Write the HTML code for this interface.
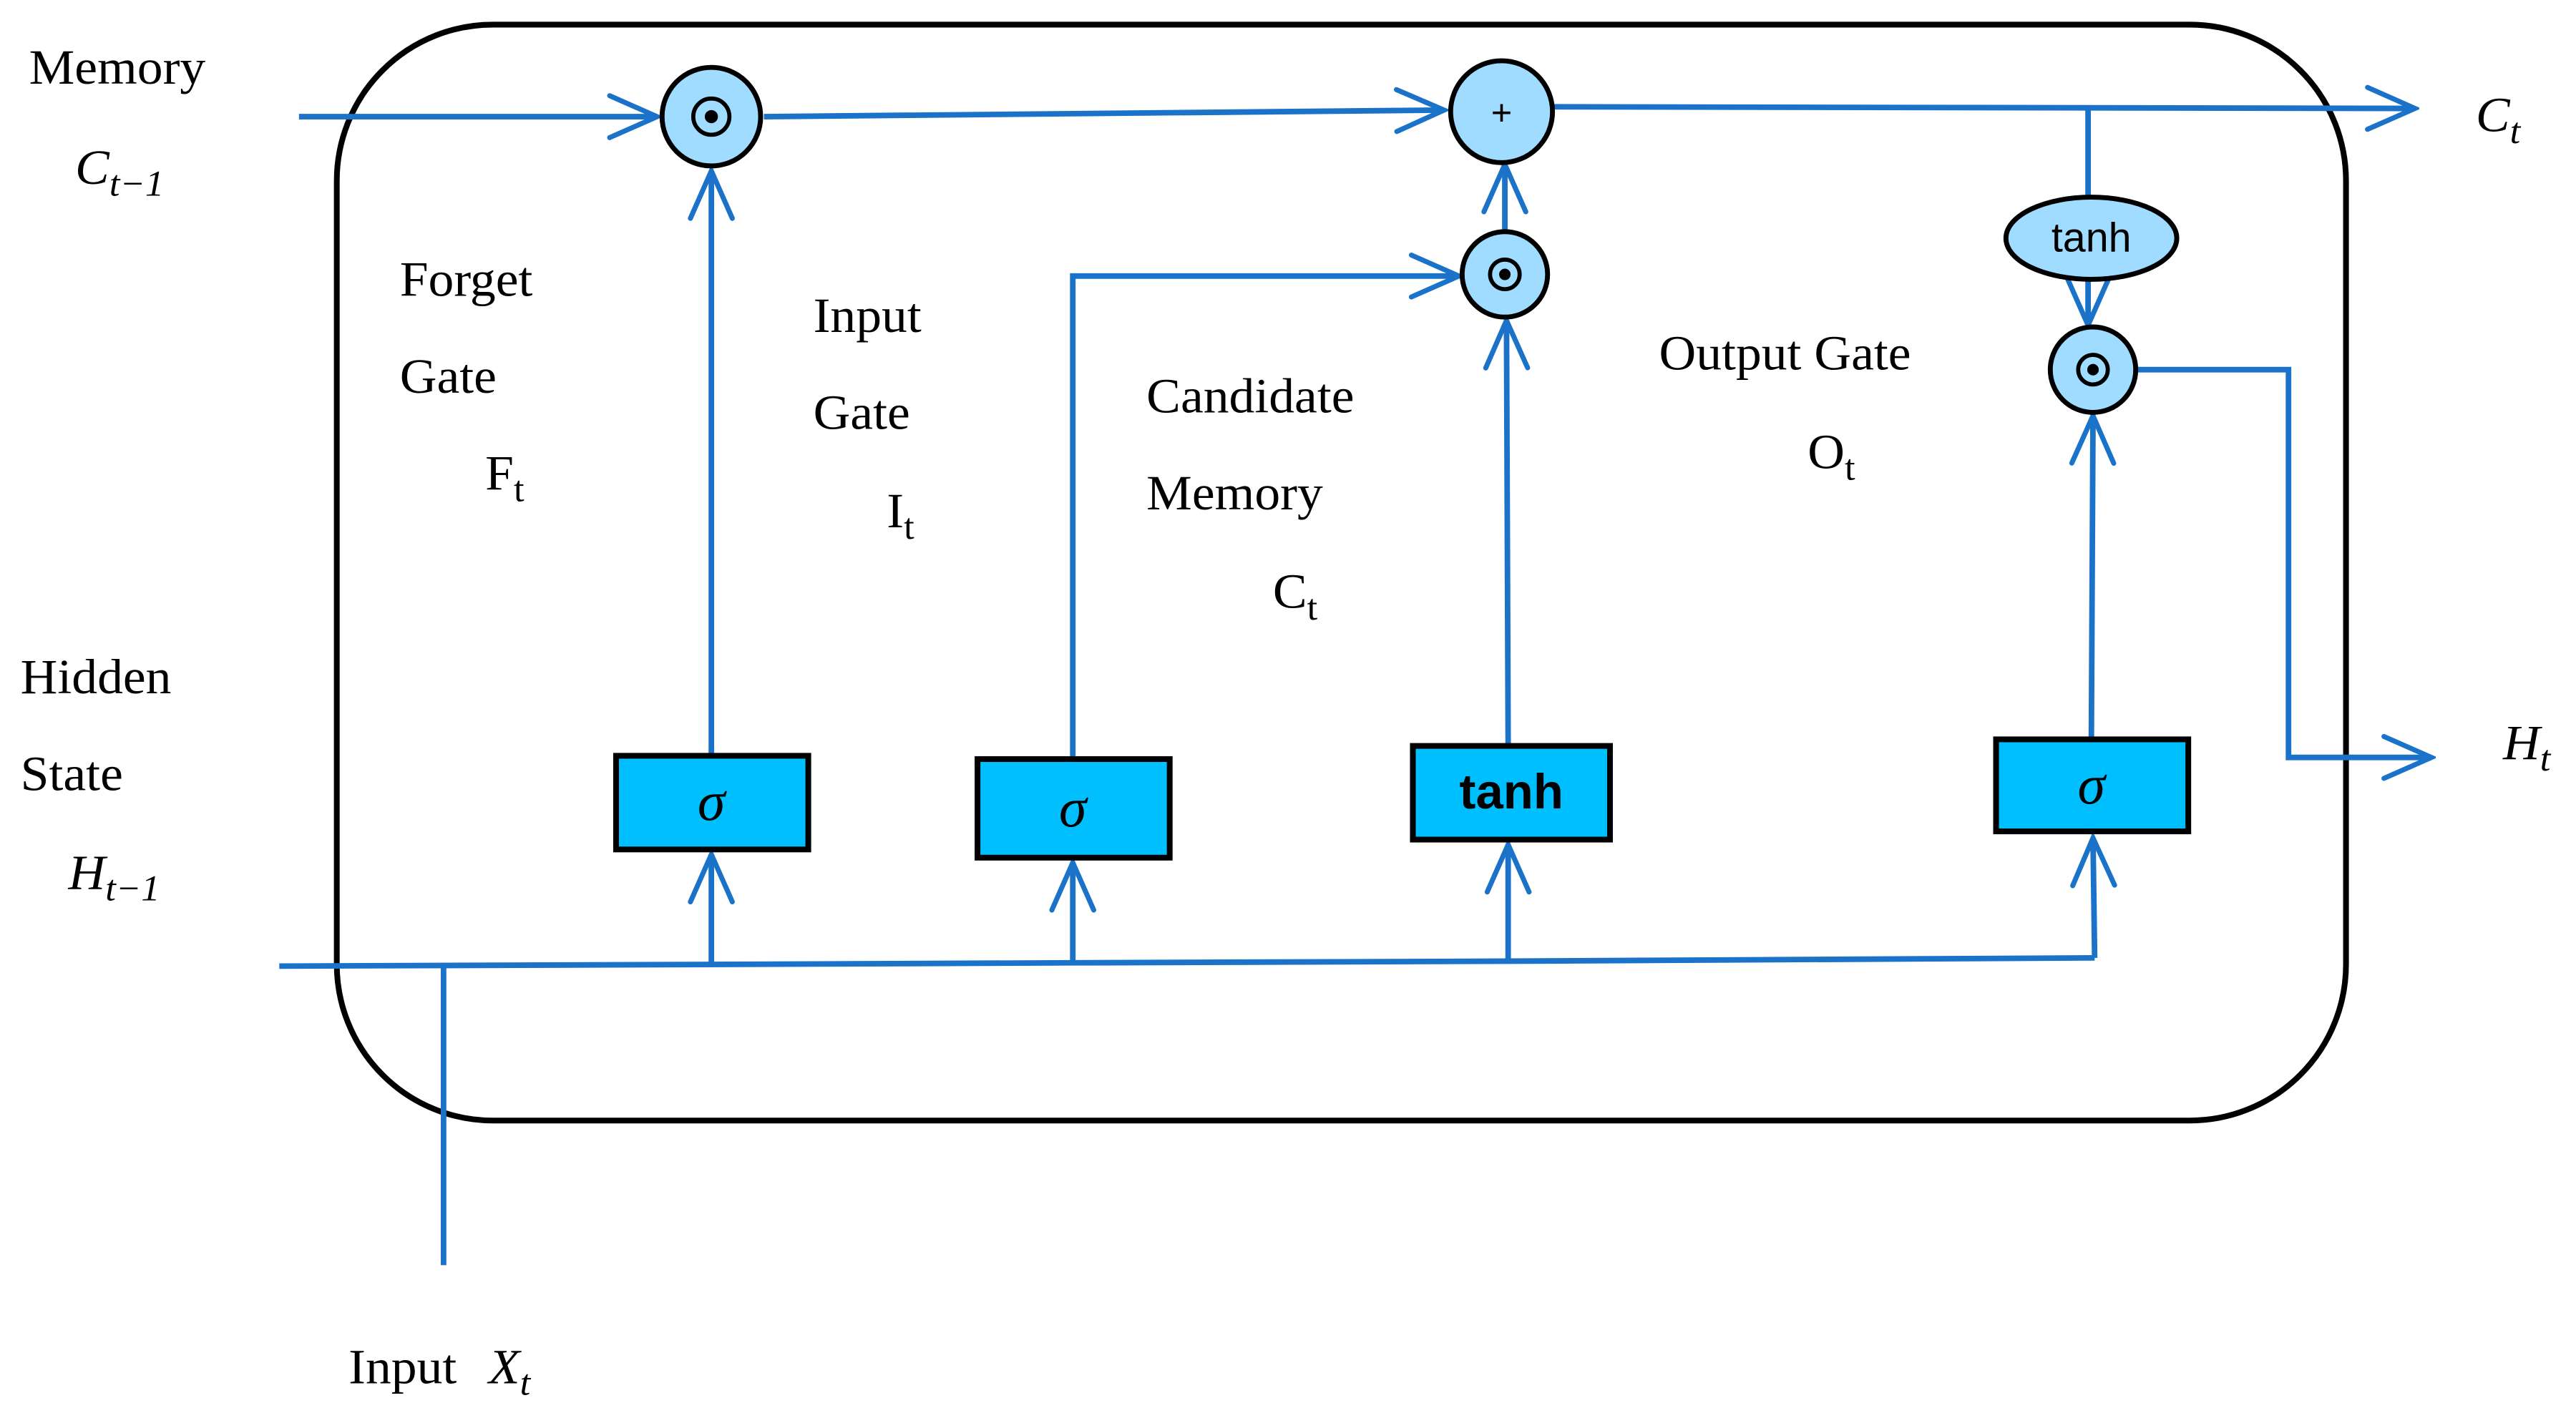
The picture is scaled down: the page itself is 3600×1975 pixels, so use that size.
<!DOCTYPE html>
<html><head><meta charset="utf-8"><style>
html,body{margin:0;padding:0;background:#fff;width:3600px;height:1975px;overflow:hidden}
svg{display:block}
text{font-family:"Liberation Serif",serif;fill:#000}
</style></head><body>
<svg width="3600" height="1975" viewBox="0 0 1568 860" preserveAspectRatio="none" xmlns="http://www.w3.org/2000/svg">
<defs>
<marker id="a" viewBox="0 0 40 40" refX="37" refY="20" markerWidth="34" markerHeight="34" markerUnits="userSpaceOnUse" orient="auto">
<path d="M3,5 L37,20 L3,35" fill="none" stroke="#1a73c8" stroke-width="3.6" stroke-linecap="round" stroke-linejoin="miter"/>
</marker>
</defs>
<rect x="205" y="15" width="1223" height="667" rx="95" ry="95" fill="none" stroke="#000" stroke-width="3.5"/>
<g fill="none" stroke="#1a73c8" stroke-width="3.4">
<line x1="182" y1="71" x2="400" y2="71" marker-end="url(#a)"/>
<line x1="465" y1="71" x2="879" y2="67" marker-end="url(#a)"/>
<line x1="946" y1="65" x2="1470" y2="66" marker-end="url(#a)"/>
<line x1="1271" y1="65" x2="1271" y2="121"/>
<line x1="1271" y1="170" x2="1271" y2="198" marker-end="url(#a)"/>
<polyline points="1300,225 1393,225 1393,461 1480,461" marker-end="url(#a)"/>
<line x1="916" y1="141" x2="916" y2="100" marker-end="url(#a)"/>
<polyline points="653,462 653,168 888,168" marker-end="url(#a)"/>
<line x1="433" y1="460" x2="433" y2="104" marker-end="url(#a)"/>
<line x1="918" y1="454" x2="917" y2="195" marker-end="url(#a)"/>
<line x1="1273" y1="450" x2="1274" y2="253" marker-end="url(#a)"/>
<polyline points="170,588 433,587 653,586 918,585 1275,583"/>
<line x1="433" y1="587" x2="433" y2="520" marker-end="url(#a)"/>
<line x1="653" y1="586" x2="653" y2="525" marker-end="url(#a)"/>
<line x1="918" y1="585" x2="918" y2="514" marker-end="url(#a)"/>
<line x1="1275" y1="583" x2="1274" y2="510" marker-end="url(#a)"/>
<line x1="270" y1="588" x2="270" y2="770"/>
</g>
<g stroke="#000" stroke-width="3" fill="#a0dcff">
<circle cx="433" cy="71" r="30"/>
<circle cx="914" cy="68" r="31"/>
<circle cx="916" cy="167" r="26"/>
<circle cx="1274" cy="225" r="26"/>
<ellipse cx="1273" cy="145" rx="52" ry="25"/>
</g>
<g fill="none" stroke="#000" stroke-width="2.5">
<circle cx="433" cy="71" r="11"/>
<circle cx="916" cy="167" r="9"/>
<circle cx="1274" cy="225" r="9"/>
</g>
<circle cx="433" cy="71" r="4" fill="#000"/>
<circle cx="916" cy="167" r="3.5" fill="#000"/>
<circle cx="1274" cy="225" r="3.5" fill="#000"/>
<text x="914" y="76" font-size="22" text-anchor="middle" style="font-family:'Liberation Sans',sans-serif">+</text>
<text x="1273" y="153" font-size="25" text-anchor="middle" style="font-family:'Liberation Sans',sans-serif">tanh</text>
<g fill="#00bfff" stroke="#000" stroke-width="3.5">
<rect x="375" y="460" width="117" height="57"/>
<rect x="595" y="462" width="117" height="60"/>
<rect x="860" y="454" width="120" height="57"/>
<rect x="1215" y="450" width="117" height="56"/>
</g>
<g font-size="34" font-style="italic" text-anchor="middle">
<text x="433" y="499">σ</text>
<text x="653" y="503">σ</text>
<text x="1273" y="489">σ</text>
</g>
<text x="920" y="492" font-size="30" font-weight="bold" text-anchor="middle" style="font-family:'Liberation Sans',sans-serif">tanh</text>
<g font-size="30" transform="scale(1.04,1)">
<text x="17" y="51">Memory</text>
<text x="44" y="112" font-style="italic">C<tspan font-size="22" dy="7">t−1</tspan></text>
<text x="1449" y="80" font-style="italic">C<tspan font-size="22" dy="7">t</tspan></text>
<text x="234" y="180">Forget</text>
<text x="234" y="239">Gate</text>
<text x="284" y="298">F<tspan font-size="22" dy="7">t</tspan></text>
<text x="476" y="202">Input</text>
<text x="476" y="261">Gate</text>
<text x="519" y="321">I<tspan font-size="22" dy="7">t</tspan></text>
<text x="671" y="251">Candidate</text>
<text x="671" y="310">Memory</text>
<text x="745" y="370">C<tspan font-size="22" dy="7">t</tspan></text>
<text x="971" y="225">Output Gate</text>
<text x="1058" y="285">O<tspan font-size="22" dy="7">t</tspan></text>
<text x="12" y="422">Hidden</text>
<text x="12" y="481">State</text>
<text x="40" y="541" font-style="italic">H<tspan font-size="22" dy="7">t−1</tspan></text>
<text x="1465" y="462" font-style="italic">H<tspan font-size="22" dy="7">t</tspan></text>
<text x="204" y="842">Input</text>
<text x="286" y="842" font-style="italic">X<tspan font-size="22" dy="7">t</tspan></text>
</g>
</svg>
</body></html>
